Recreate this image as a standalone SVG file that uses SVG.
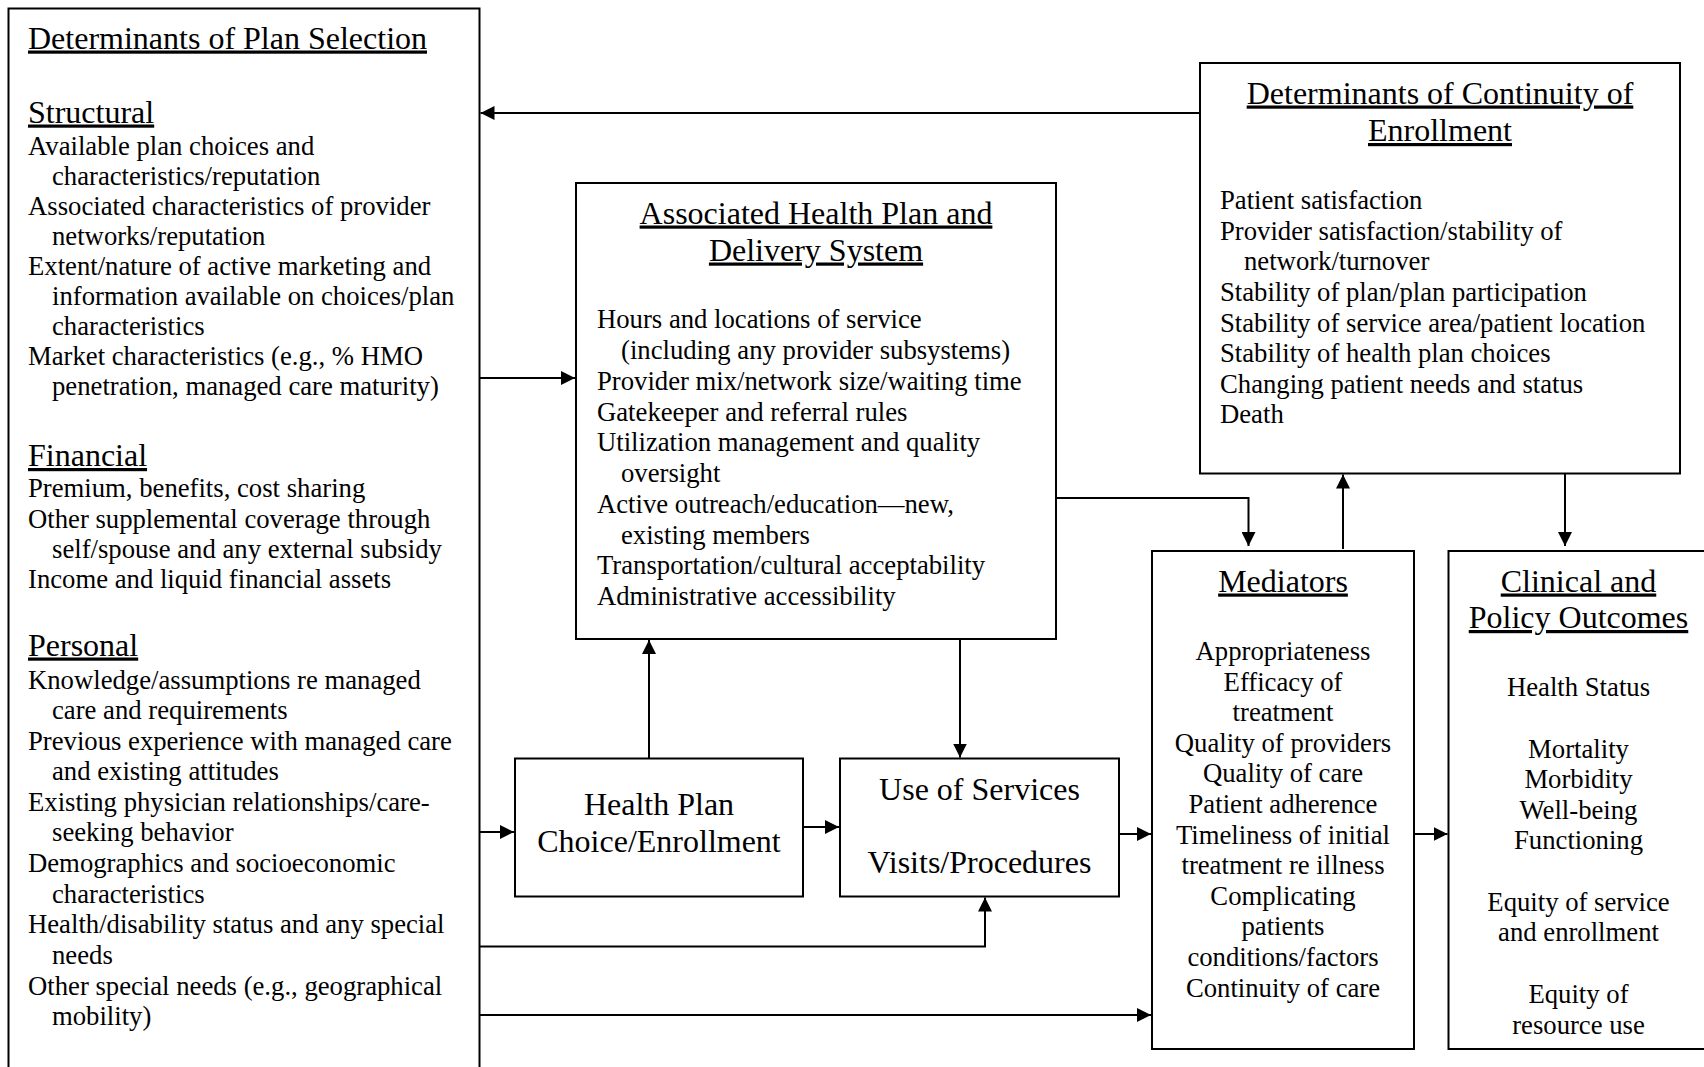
<svg xmlns="http://www.w3.org/2000/svg" width="1704" height="1067" viewBox="0 0 1704 1067">
  <defs>
    <style>
      .box { fill: #ffffff; stroke: #000000; stroke-width: 2; }
      .t { font-family: "Liberation Serif", "Times New Roman", serif; fill: #000000; }
      .h { font-size: 32px; text-decoration: underline; }
      .b { font-size: 26.7px; }
      .m { font-size: 32px; }
      .c { text-anchor: middle; }
      .conn { fill: none; stroke: #000000; stroke-width: 2; marker-end: url(#arrow); }
    </style>
    <marker id="arrow" markerUnits="userSpaceOnUse" markerWidth="15" markerHeight="14" refX="14" refY="7" orient="auto">
      <path d="M0,0 L14,7 L0,14 z" fill="#000000"/>
    </marker>
  </defs>

  <rect width="1704" height="1067" fill="#ffffff"/>

  <!-- Determinants of plan selection (runs off the bottom edge) -->
  <g id="plan-selection">
    <rect class="box" x="8.5" y="8.5" width="471" height="1075"/>
    <g class="t">
      <text class="h" x="28" y="48.5">Determinants of Plan Selection</text>
      <text class="h" x="28" y="122.5">Structural</text>
      <text class="b" x="28" y="154.5">Available plan choices and</text>
      <text class="b" x="52" y="184.5">characteristics/reputation</text>
      <text class="b" x="28" y="214.5">Associated characteristics of provider</text>
      <text class="b" x="52" y="244.5">networks/reputation</text>
      <text class="b" x="28" y="274.5">Extent/nature of active marketing and</text>
      <text class="b" x="52" y="304.5">information available on choices/plan</text>
      <text class="b" x="52" y="334.5">characteristics</text>
      <text class="b" x="28" y="364.5">Market characteristics (e.g., % HMO</text>
      <text class="b" x="52" y="394.5">penetration, managed care maturity)</text>
      <text class="h" x="28" y="466">Financial</text>
      <text class="b" x="28" y="497">Premium, benefits, cost sharing</text>
      <text class="b" x="28" y="527.5">Other supplemental coverage through</text>
      <text class="b" x="52" y="558">self/spouse and any external subsidy</text>
      <text class="b" x="28" y="588">Income and liquid financial assets</text>
      <text class="h" x="28" y="655.5">Personal</text>
      <text class="b" x="28" y="688.5">Knowledge/assumptions re managed</text>
      <text class="b" x="52" y="719">care and requirements</text>
      <text class="b" x="28" y="749.5">Previous experience with managed care</text>
      <text class="b" x="52" y="780">and existing attitudes</text>
      <text class="b" x="28" y="810.5">Existing physician relationships/care-</text>
      <text class="b" x="52" y="841">seeking behavior</text>
      <text class="b" x="28" y="871.5">Demographics and socioeconomic</text>
      <text class="b" x="52" y="902.5">characteristics</text>
      <text class="b" x="28" y="933">Health/disability status and any special</text>
      <text class="b" x="52" y="964">needs</text>
      <text class="b" x="28" y="994.5">Other special needs (e.g., geographical</text>
      <text class="b" x="52" y="1025">mobility)</text>
    </g>
  </g>

  <!-- Associated health plan and delivery system -->
  <g id="delivery-system">
    <rect class="box" x="576" y="183" width="480" height="456"/>
    <g class="t">
      <text class="h c" x="816" y="223.5">Associated Health Plan and</text>
      <text class="h c" x="816" y="260.5">Delivery System</text>
      <text class="b" x="597" y="328">Hours and locations of service</text>
      <text class="b" x="621" y="359">(including any provider subsystems)</text>
      <text class="b" x="597" y="390">Provider mix/network size/waiting time</text>
      <text class="b" x="597" y="420.5">Gatekeeper and referral rules</text>
      <text class="b" x="597" y="451">Utilization management and quality</text>
      <text class="b" x="621" y="482">oversight</text>
      <text class="b" x="597" y="513">Active outreach/education—new,</text>
      <text class="b" x="621" y="543.5">existing members</text>
      <text class="b" x="597" y="574">Transportation/cultural acceptability</text>
      <text class="b" x="597" y="605">Administrative accessibility</text>
    </g>
  </g>

  <!-- Determinants of continuity of enrollment -->
  <g id="continuity">
    <rect class="box" x="1200" y="63" width="480" height="410.5"/>
    <g class="t">
      <text class="h c" x="1440" y="103.5">Determinants of Continuity of</text>
      <text class="h c" x="1440" y="141">Enrollment</text>
      <text class="b" x="1220" y="209">Patient satisfaction</text>
      <text class="b" x="1220" y="239.5">Provider satisfaction/stability of</text>
      <text class="b" x="1244" y="270">network/turnover</text>
      <text class="b" x="1220" y="300.5">Stability of plan/plan participation</text>
      <text class="b" x="1220" y="331.5">Stability of service area/patient location</text>
      <text class="b" x="1220" y="362">Stability of health plan choices</text>
      <text class="b" x="1220" y="392.5">Changing patient needs and status</text>
      <text class="b" x="1220" y="423">Death</text>
    </g>
  </g>

  <!-- Health plan choice / enrollment -->
  <g id="plan-choice">
    <rect class="box" x="515" y="758.5" width="288" height="138"/>
    <g class="t">
      <text class="m c" x="659" y="815">Health Plan</text>
      <text class="m c" x="659" y="852">Choice/Enrollment</text>
    </g>
  </g>

  <!-- Use of services -->
  <g id="use-of-services">
    <rect class="box" x="840" y="758.5" width="279" height="138"/>
    <g class="t">
      <text class="m c" x="979.5" y="799.5">Use of Services</text>
      <text class="m c" x="979.5" y="873">Visits/Procedures</text>
    </g>
  </g>

  <!-- Mediators -->
  <g id="mediators">
    <rect class="box" x="1152" y="551" width="262" height="498"/>
    <g class="t">
      <text class="h c" x="1283" y="591.5">Mediators</text>
      <text class="b c" x="1283" y="660">Appropriateness</text>
      <text class="b c" x="1283" y="690.5">Efficacy of</text>
      <text class="b c" x="1283" y="721">treatment</text>
      <text class="b c" x="1283" y="751.5">Quality of providers</text>
      <text class="b c" x="1283" y="782">Quality of care</text>
      <text class="b c" x="1283" y="812.5">Patient adherence</text>
      <text class="b c" x="1283" y="843.5">Timeliness of initial</text>
      <text class="b c" x="1283" y="874">treatment re illness</text>
      <text class="b c" x="1283" y="904.5">Complicating</text>
      <text class="b c" x="1283" y="935">patients</text>
      <text class="b c" x="1283" y="966">conditions/factors</text>
      <text class="b c" x="1283" y="996.5">Continuity of care</text>
    </g>
  </g>

  <!-- Clinical and policy outcomes (runs off the right edge) -->
  <g id="outcomes">
    <rect class="box" x="1448.5" y="551" width="270" height="498"/>
    <g class="t">
      <text class="h c" x="1578.5" y="591.5">Clinical and</text>
      <text class="h c" x="1578.5" y="628">Policy Outcomes</text>
      <text class="b c" x="1578.5" y="696">Health Status</text>
      <text class="b c" x="1578.5" y="757.5">Mortality</text>
      <text class="b c" x="1578.5" y="788">Morbidity</text>
      <text class="b c" x="1578.5" y="818.5">Well-being</text>
      <text class="b c" x="1578.5" y="849">Functioning</text>
      <text class="b c" x="1578.5" y="910.5">Equity of service</text>
      <text class="b c" x="1578.5" y="941">and enrollment</text>
      <text class="b c" x="1578.5" y="1003">Equity of</text>
      <text class="b c" x="1578.5" y="1033.5">resource use</text>
    </g>
  </g>

  <!-- Connectors -->
  <g id="connectors">
    <path class="conn" d="M1200,113 L480.5,113"/>
    <path class="conn" d="M479.5,378 L575,378"/>
    <path class="conn" d="M649,758.5 L649,640"/>
    <path class="conn" d="M960,639 L960,757.5"/>
    <path class="conn" d="M1056,498 L1248.5,498 L1248.5,546"/>
    <path class="conn" d="M1343,549 L1343,474.5"/>
    <path class="conn" d="M1565,473.5 L1565,546"/>
    <path class="conn" d="M479.5,832 L514,832"/>
    <path class="conn" d="M803,827 L839,827"/>
    <path class="conn" d="M479.5,946.5 L985,946.5 L985,897.5"/>
    <path class="conn" d="M479.5,1015 L1151,1015"/>
    <path class="conn" d="M1119,834 L1151,834"/>
    <path class="conn" d="M1414,834 L1447.5,834"/>
  </g>
</svg>
